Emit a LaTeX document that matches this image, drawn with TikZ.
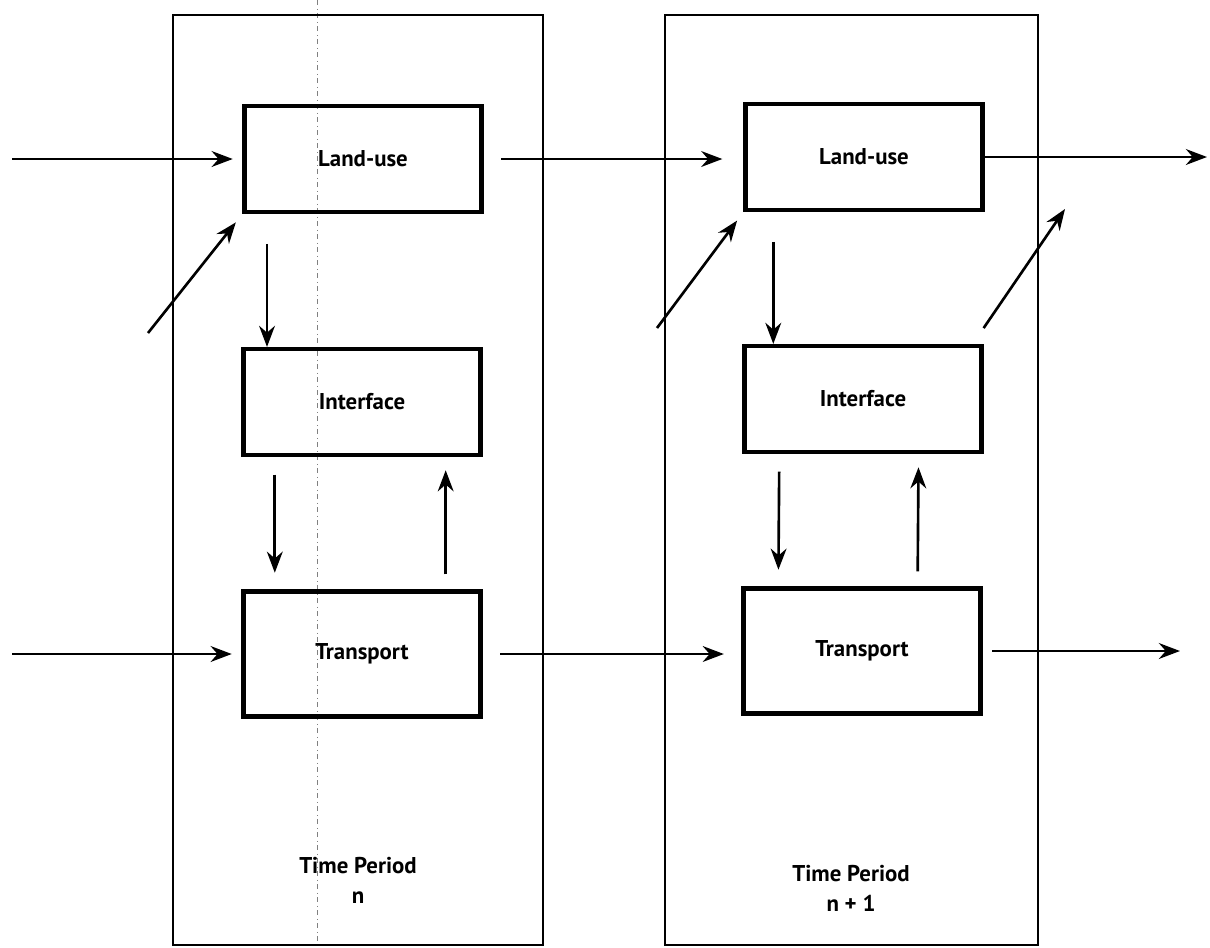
\documentclass[tikz,border=0pt]{standalone}
\usepackage{fontspec}
\setmainfont{PT Sans}
\usetikzlibrary{arrows.meta}
\tikzset{
  box/.style={draw, line width=2.4pt, minimum width=4.74cm, minimum height=2.12cm, font=\fontsize{13}{17}\selectfont\bfseries},
  panel/.style={draw, line width=1.5pt},
  flow/.style={line width=1.5pt, -{Stealth[length=12pt,width=9pt]}},
  period/.style={align=center, font=\fontsize{13}{17}\selectfont\bfseries}
}
\begin{document}
\begin{tikzpicture}[x=0.02cm,y=-0.02cm]
  \useasboundingbox (0,0) rectangle (1210,947);
  \draw[gray, line width=0.4pt, dash dot] (317,0) -- (317,947);
  \draw[panel] (173,15) rectangle (543,945);
  \draw[panel] (665,15) rectangle (1038,945);
  \node[box] (lu1) at (363,159) {Land-use};
  \node[box] (if1) at (362,402) {Interface};
  \node[box, minimum height=2.5cm] (tr1) at (362,654) {Transport};
  \node[box] (lu2) at (864,157) {Land-use};
  \node[box] (if2) at (863,399) {Interface};
  \node[box, minimum height=2.5cm] (tr2) at (862,651) {Transport};
  \node[period] (tp1) at (358,880) {Time Period\\n};
  \node[period] (tp2) at (851,888) {Time Period\\n + 1};
  \coordinate (luin) at (12,159);
  \coordinate (trin) at (12,654);
  \coordinate (dgin1) at (148,333);
  \coordinate (dgin2) at (657,328);
  \coordinate (dgout) at (1065,209);
  \coordinate (luout) at (1207,157);
  \coordinate (trout) at (1180,651);
  \draw[flow, shorten >=5.5pt] (luin) -- (luin -| lu1.west);
  \draw[flow, shorten <=10pt, shorten >=12pt] (lu1.east) -- (lu1.east -| lu2.west);
  \draw[flow] (lu2.east) -- (luout);
  \draw[flow, shorten >=6pt] (dgin1) -- (lu1.south west);
  \draw[flow, shorten >=6pt] (dgin2) -- (lu2.south west);
  \draw[flow] ([yshift=9pt]if2.north east) -- (dgout);
  \draw[flow, shorten <=17pt] ([xshift=14pt]lu1.south west) -- ([xshift=14pt]lu1.south west |- if1.north);
  \draw[flow, shorten <=17pt] ([xshift=17pt]lu2.south west) -- ([xshift=17pt]lu2.south west |- if2.north);
  \draw[flow, shorten <=10pt, shorten >=9.5pt] ([xshift=19pt]if1.south west) -- ([xshift=19pt]tr1.north west);
  \draw[flow, shorten <=10pt, shorten >=9.5pt] ([xshift=21pt]if2.south west) -- ([xshift=21pt]tr2.north west);
  \draw[flow, shorten <=8.5pt, shorten >=7.5pt] ([xshift=-21pt]tr1.north east) -- ([xshift=-21pt]if1.south east);
  \draw[flow, shorten <=8.5pt, shorten >=7.5pt] ([xshift=-37pt]tr2.north east) -- ([xshift=-37pt]if2.south east);
  \draw[flow, shorten >=5.5pt] (trin) -- (trin -| tr1.west);
  \draw[flow, shorten <=10pt, shorten >=10pt] (tr1.east) -- (tr1.east -| tr2.west);
  \draw[flow, shorten <=5.5pt] (tr2.east) -- (trout);
\end{tikzpicture}
\end{document}
